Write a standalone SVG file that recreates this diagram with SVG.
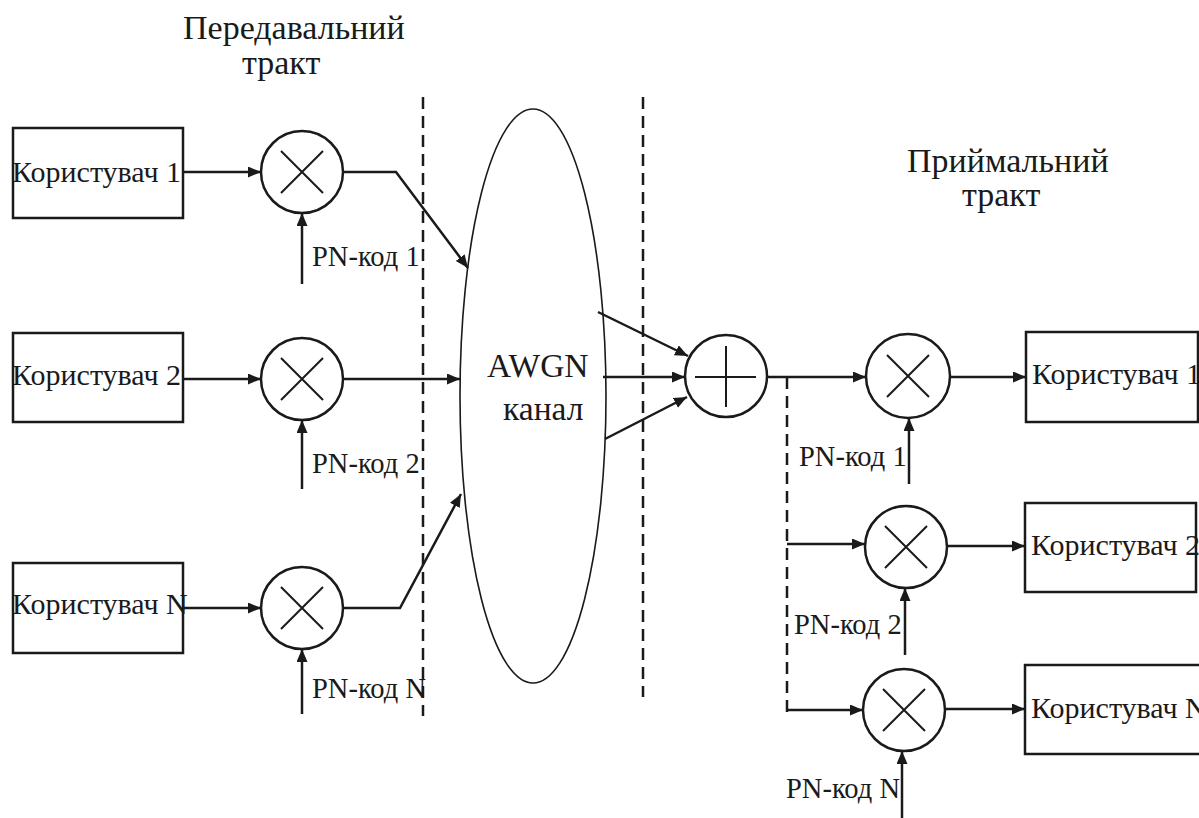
<svg xmlns="http://www.w3.org/2000/svg" width="1199" height="818" viewBox="0 0 1199 818">
<style>
  .box{fill:#fff;stroke:#1a1a1a;stroke-width:2.5}
  .circ{fill:#fff;stroke:#1a1a1a;stroke-width:2.5}
  .sym{stroke:#1a1a1a;stroke-width:2;fill:none}
  .ln{stroke:#1a1a1a;stroke-width:2.5;fill:none}
  .arr{stroke:#1a1a1a;stroke-width:2.5;fill:none;marker-end:url(#ah)}
  .dash{stroke:#1a1a1a;stroke-width:2.5;fill:none;stroke-dasharray:12 7}
  .ell{fill:#fff;stroke:#1a1a1a;stroke-width:1.6}
  text{font-family:"Liberation Serif","Times New Roman",serif;fill:#1a1a1a}
  .lbl{font-size:30px}
  .pn{font-size:28.5px}
  .ttl{font-size:34px}
  .awgn{font-size:33.5px}
</style>
<defs>
  <marker id="ah" markerUnits="userSpaceOnUse" markerWidth="14" markerHeight="12" refX="13" refY="5.5" orient="auto">
    <path d="M0,0 L13,5.5 L0,11 z" fill="#1a1a1a"/>
  </marker>
</defs>

<g id="titles">
  <text class="ttl" x="183" y="39">Передавальний</text>
  <text class="ttl" x="242" y="74">тракт</text>
  <text class="ttl" x="907" y="172">Приймальний</text>
  <text class="ttl" x="962" y="206">тракт</text>
</g>

<g id="separators">
  <line class="dash" x1="423" y1="97" x2="423" y2="716"/>
  <line class="dash" x1="643" y1="97" x2="643" y2="697"/>
</g>

<g id="channel">
  <ellipse class="ell" cx="533" cy="396" rx="73" ry="287"/>
  <text class="awgn" x="487" y="377">AWGN</text>
  <text class="awgn" x="503" y="420">канал</text>
</g>

<g id="tx-user1"><rect class="box" x="13" y="128" width="170" height="90"/><text class="lbl" x="12" y="182">Користувач 1</text></g>
<g id="tx-user2"><rect class="box" x="13" y="333" width="170" height="89"/><text class="lbl" x="12" y="385">Користувач 2</text></g>
<g id="tx-userN"><rect class="box" x="13" y="563" width="170" height="90"/><text class="lbl" x="12" y="614">Користувач N</text></g>

<g id="tx-mul1"><circle class="circ" cx="302" cy="172" r="41"/><path class="sym" d="M281,151 L323,193 M323,151 L281,193"/></g>
<g id="tx-mul2"><circle class="circ" cx="302" cy="379" r="41"/><path class="sym" d="M281,358 L323,400 M323,358 L281,400"/></g>
<g id="tx-mulN"><circle class="circ" cx="302" cy="608" r="41"/><path class="sym" d="M281,587 L323,629 M323,587 L281,629"/></g>

<g id="sum"><circle class="circ" cx="726" cy="376" r="41"/><path class="sym" d="M695,377 L756,377 M726,346 L726,407"/></g>

<g id="rx-mul1"><circle class="circ" cx="908" cy="376" r="42"/><path class="sym" d="M887,355 L929,397 M929,355 L887,397"/></g>
<g id="rx-mul2"><circle class="circ" cx="906" cy="547" r="41"/><path class="sym" d="M885,526 L927,568 M927,526 L885,568"/></g>
<g id="rx-mulN"><circle class="circ" cx="904" cy="710" r="41"/><path class="sym" d="M883,689 L925,731 M925,689 L883,731"/></g>

<g id="rx-user1"><rect class="box" x="1026" y="332" width="172" height="90"/><text class="lbl" x="1032" y="384">Користувач 1</text></g>
<g id="rx-user2"><rect class="box" x="1025" y="503" width="171" height="89"/><text class="lbl" x="1031" y="555">Користувач 2</text></g>
<g id="rx-userN"><rect class="box" x="1025" y="665" width="180" height="89"/><text class="lbl" x="1031" y="718">Користувач N</text></g>

<g id="pn-labels">
  <text class="pn" x="312" y="266">PN-код 1</text>
  <text class="pn" x="312" y="473">PN-код 2</text>
  <text class="pn" x="312" y="698">PN-код N</text>
  <text class="pn" x="799" y="466">PN-код 1</text>
  <text class="pn" x="794" y="634">PN-код 2</text>
  <text class="pn" x="786" y="798">PN-код N</text>
</g>

<g id="connectors">
  <line class="arr" x1="183" y1="172" x2="261" y2="172"/>
  <line class="arr" x1="183" y1="379" x2="261" y2="379"/>
  <line class="arr" x1="183" y1="608" x2="261" y2="608"/>
  <line class="arr" x1="302" y1="284" x2="302" y2="213"/>
  <line class="arr" x1="302" y1="489" x2="302" y2="420"/>
  <line class="arr" x1="302" y1="714" x2="302" y2="649"/>
  <polyline class="arr" points="343,172 396,172 468,268"/>
  <line class="arr" x1="343" y1="379" x2="460" y2="379"/>
  <polyline class="arr" points="343,608 400,608 461,494"/>
  <line class="arr" x1="598" y1="312" x2="688" y2="356"/>
  <line class="arr" x1="603" y1="377" x2="685" y2="377"/>
  <line class="arr" x1="605" y1="439" x2="687" y2="397"/>
  <line class="arr" x1="767" y1="377" x2="866" y2="377"/>
  <line class="dash" x1="787" y1="377" x2="787" y2="712"/>
  <line class="arr" x1="787" y1="544" x2="865" y2="544"/>
  <line class="arr" x1="787" y1="710" x2="863" y2="710"/>
  <line class="arr" x1="950" y1="377" x2="1026" y2="377"/>
  <line class="arr" x1="947" y1="546" x2="1025" y2="546"/>
  <line class="arr" x1="945" y1="709" x2="1025" y2="709"/>
  <line class="arr" x1="909" y1="484" x2="909" y2="418"/>
  <line class="arr" x1="905" y1="655" x2="905" y2="588"/>
  <line class="arr" x1="902" y1="818" x2="902" y2="751"/>
</g>
</svg>
